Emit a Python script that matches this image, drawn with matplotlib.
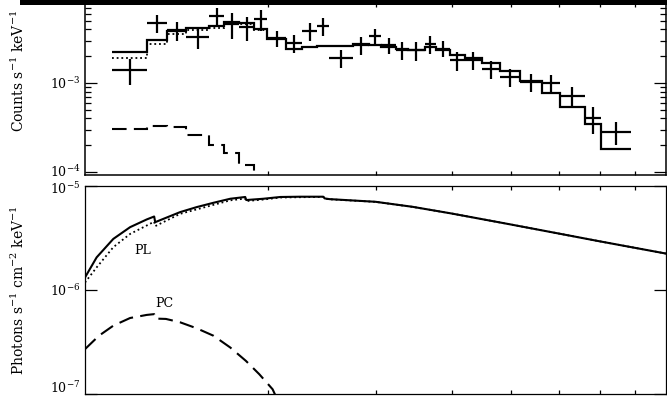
import numpy as np
import matplotlib
matplotlib.use("Agg")
import matplotlib.pyplot as plt
from matplotlib.ticker import (FixedLocator, NullFormatter, NullLocator,
                               LogLocator, LogFormatterSciNotation)
from matplotlib.patches import Rectangle
from matplotlib.transforms import ScaledTranslation

plt.rcParams['font.family'] = ['DejaVu Serif']
plt.rcParams['mathtext.fontset'] = 'dejavuserif'

# ---------------- folded spectrum (upper panel) ----------------
# energy bin edges, keV
bin_edges = [1.108, 1.265, 1.364, 1.466, 1.600, 1.693, 1.792, 1.897, 1.993,
             2.141, 2.275, 2.408, 2.520, 2.759, 2.932, 3.068, 3.247, 3.386,
             3.612, 3.766, 3.970, 4.203, 4.481, 4.797, 5.174, 5.623, 6.020,
             6.619, 7.032, 7.878]

# observed rate and 1-sigma error, counts s^-1 keV^-1
counts = [1.40e-3, 4.72e-3, 3.94e-3, 3.29e-3, 5.66e-3, 4.60e-3, 4.26e-3,
          5.24e-3, 3.20e-3, 2.81e-3, 3.84e-3, 4.37e-3, 1.91e-3, 2.67e-3,
          3.37e-3, 2.67e-3, 2.35e-3, 2.32e-3, 2.74e-3, 2.44e-3, 1.81e-3,
          1.81e-3, 1.44e-3, 1.17e-3, 1.03e-3, 1.00e-3, 0.714e-3, 0.404e-3,
          0.281e-3]
counts_err = [0.443e-3, 1.08e-3, 0.95e-3, 0.86e-3, 1.235e-3, 1.495e-3,
              1.305e-3, 1.435e-3, 0.635e-3, 0.65e-3, 0.84e-3, 0.96e-3,
              0.44e-3, 0.595e-3, 0.62e-3, 0.57e-3, 0.545e-3, 0.555e-3,
              0.625e-3, 0.50e-3, 0.435e-3, 0.42e-3, 0.32e-3, 0.26e-3,
              0.23e-3, 0.23e-3, 0.18e-3, 0.14e-3, 0.082e-3]

# folded model components
model_pl_counts = [1.90e-3, 2.71e-3, 3.52e-3, 3.89e-3, 4.20e-3, 4.69e-3,
                   4.60e-3, 3.97e-3, 3.12e-3, 2.41e-3, 2.54e-3, 2.62e-3,
                   2.62e-3, 2.72e-3, 2.67e-3, 2.57e-3, 2.44e-3, 2.35e-3,
                   2.51e-3, 2.35e-3, 2.06e-3, 1.885e-3, 1.68e-3, 1.38e-3,
                   1.04e-3, 0.772e-3, 0.537e-3, 0.342e-3, 0.179e-3]
model_pc_counts = [3.04e-4, 3.29e-4, 3.20e-4, 2.60e-4, 2.01e-4, 1.635e-4,
                   1.20e-4, 0.71e-4]

# ---------------- unfolded model (lower panel) ----------------
curve_energy = [1.000, 1.045, 1.113, 1.186, 1.263, 1.299, 1.304, 1.433,
                1.526, 1.626, 1.732, 1.833, 1.840, 1.963, 2.093, 2.258,
                2.463, 2.475, 2.520, 3.000, 3.450, 4.000, 5.000, 6.000,
                7.000, 9.000]
flux_total = [1.32e-6, 2.06e-6, 3.10e-6, 4.02e-6, 4.77e-6, 5.09e-6, 4.49e-6,
              5.61e-6, 6.27e-6, 6.90e-6, 7.54e-6, 7.84e-6, 7.33e-6, 7.54e-6,
              7.84e-6, 7.89e-6, 7.89e-6, 7.60e-6, 7.48e-6, 7.05e-6, 6.31e-6,
              5.44e-6, 4.27e-6, 3.49e-6, 2.94e-6, 2.24e-6]
flux_pl = [1.18e-6, 1.65e-6, 2.58e-6, 3.46e-6, 4.17e-6, 4.54e-6, 4.11e-6,
           5.40e-6, 5.96e-6, 6.59e-6, 7.28e-6, 7.57e-6, 7.16e-6, 7.41e-6,
           7.75e-6, 7.80e-6, 7.85e-6, 7.55e-6, 7.45e-6, 7.04e-6, 6.30e-6,
           5.44e-6, 4.27e-6, 3.49e-6, 2.94e-6, 2.24e-6]

pc_energy = [1.000, 1.054, 1.113, 1.186, 1.263, 1.299, 1.304, 1.358, 1.433,
             1.526, 1.626, 1.732, 1.838, 1.933, 2.033, 2.053]
flux_pc = [2.70e-7, 3.63e-7, 4.54e-7, 5.38e-7, 5.76e-7, 5.86e-7, 5.31e-7,
           5.27e-7, 4.89e-7, 4.28e-7, 3.63e-7, 2.80e-7, 2.08e-7, 1.55e-7,
           1.11e-7, 0.98e-7]

energy_ticks = [2, 3, 4, 5, 6, 7, 8]
rate_ticks = [1e-4, 1e-3]
flux_ticks = [1e-7, 1e-6, 1e-5]

# ------------------------------------------------------------------
edges = np.array(bin_edges)
centers = np.sqrt(edges[:-1] * edges[1:])
xerr = np.vstack([centers - edges[:-1], edges[1:] - centers])
pl = np.array(model_pl_counts)
pc = np.zeros_like(pl)
pc[:len(model_pc_counts)] = model_pc_counts
total = pl + pc

W, H = 667, 396
fig = plt.figure(figsize=(W / 100, H / 100), dpi=100)
ax1 = fig.add_axes([85 / W, 1 - 175 / H, 581 / W, 172 / H])
ax2 = fig.add_axes([85 / W, 1 - 394 / H, 581 / W, 208 / H])

# upper panel: data and folded model
ax1.stairs(pl, edges, baseline=None, color='black', lw=1.3,
           linestyle=(0, (1, 1.6)))
ax1.stairs(model_pc_counts, edges[:len(model_pc_counts) + 1], baseline=None,
           color='black', lw=1.5, linestyle=(0, (7, 3.5)))
ax1.stairs(total, edges, baseline=None, color='black', lw=1.6)
ax1.errorbar(centers, counts, xerr=xerr, yerr=counts_err, fmt='none',
             ecolor='black', elinewidth=1.6, capsize=0)

# lower panel: unfolded model
ax2.plot(curve_energy, flux_pl, color='black', lw=1.3,
         linestyle=(0, (1, 1.6)))
ax2.plot(curve_energy, flux_total, color='black', lw=1.5)
ax2.plot(pc_energy, flux_pc, color='black', lw=1.5,
         linestyle=(0, (7, 3.5)))
ax2.text(1.243, 2.38e-6, 'PL', ha='center', va='center', fontsize=9)
ax2.text(1.349, 7.48e-7, 'PC', ha='center', va='center', fontsize=9)

for ax in (ax1, ax2):
    ax.set_xscale('log')
    ax.set_yscale('log')
    ax.set_xlim(1.0, 9.0)
    ax.xaxis.set_major_locator(FixedLocator(energy_ticks))
    ax.xaxis.set_major_formatter(NullFormatter())
    ax.xaxis.set_minor_locator(NullLocator())
    ax.yaxis.set_major_formatter(LogFormatterSciNotation())
    ax.tick_params(axis='x', which='major', direction='in', top=True,
                   bottom=True, length=3.2, width=0.9)
    ax.tick_params(axis='y', which='major', direction='in', left=True,
                   right=True, length=8.5, width=0.9, labelsize=9, pad=3.5)
    ax.tick_params(axis='y', which='minor', direction='in', left=True,
                   right=True, length=4.3, width=0.9)

ax1.set_ylim(9.25e-5, 7.92e-3)
ax1.yaxis.set_major_locator(FixedLocator(rate_ticks))
ax1.yaxis.set_minor_locator(LogLocator(base=10, subs=np.arange(2, 10)))
ax1.yaxis.set_minor_formatter(NullFormatter())
for s in ax1.spines.values():
    s.set_linewidth(1.1)

ax2.set_ylim(1e-7, 1e-5)
ax2.yaxis.set_major_locator(FixedLocator(flux_ticks))
ax2.yaxis.set_minor_locator(NullLocator())
for s in ax2.spines.values():
    s.set_linewidth(0.9)


def nudge(tick, dy_px):
    lbl = tick.label1
    lbl.set_transform(lbl.get_transform() +
                      ScaledTranslation(0, dy_px / 100, fig.dpi_scale_trans))


# keep the end labels clear of each other and of the bottom edge
t1 = ax1.yaxis.get_major_ticks(len(rate_ticks))
t2 = ax2.yaxis.get_major_ticks(len(flux_ticks))
nudge(t1[0], 1.5)
nudge(t2[0], 7.0)
nudge(t2[2], -1.5)

fig.text(18 / W, 1 - 71 / H, r'Counts s$^{-1}$ keV$^{-1}$', rotation=90,
         ha='center', va='center', fontsize=10)
fig.text(18 / W, 1 - 290 / H, r'Photons s$^{-1}$ cm$^{-2}$ keV$^{-1}$',
         rotation=90, ha='center', va='center', fontsize=10)

# heavy rule across the top edge
fig.add_artist(Rectangle((20 / W, 1 - 5 / H), (W - 20) / W, 5 / H + 0.01,
                         transform=fig.transFigure, facecolor='black',
                         edgecolor='none', clip_on=False))

fig.savefig('out.png', dpi=100, facecolor='white')
